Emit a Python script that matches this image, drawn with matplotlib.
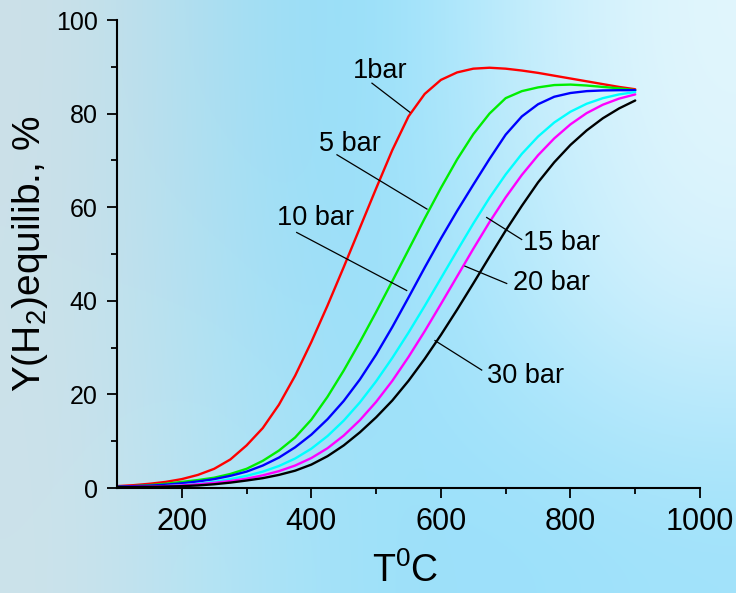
import numpy as np
import matplotlib
matplotlib.use("Agg")
import matplotlib.pyplot as plt
from matplotlib import font_manager

# temperature grid, degC
temp = np.arange(100, 901, 25)

# equilibrium H2 yield, %
y_1bar = [0.4, 0.6, 0.9, 1.3, 1.9, 2.8, 4.1, 6.1, 9.1, 12.8, 17.8, 24.0, 31.2, 39.0, 47.2, 55.6, 64.0,
          72.2, 79.4, 84.2, 87.2, 88.8, 89.6, 89.8, 89.6, 89.2, 88.7, 88.1, 87.5, 86.9, 86.3, 85.7, 85.2]
y_5bar = [0.3, 0.4, 0.6, 0.9, 1.3, 1.7, 2.2, 3.0, 4.1, 5.8, 8.0, 10.8, 14.6, 19.5, 25.1, 31.2, 37.6,
          44.2, 50.9, 57.6, 64.1, 70.2, 75.6, 80.0, 83.3, 84.8, 85.6, 86.1, 86.2, 86.0, 85.7, 85.4, 85.0]
y_10bar = [0.3, 0.4, 0.5, 0.7, 1.0, 1.4, 1.9, 2.6, 3.5, 4.8, 6.5, 8.7, 11.4, 14.7, 18.6, 23.2, 28.5,
           34.4, 40.7, 47.1, 53.3, 59.2, 64.8, 70.3, 75.5, 79.4, 82.0, 83.6, 84.4, 84.8, 84.95, 85.0, 85.0]
y_15bar = [0.0, 0.1, 0.2, 0.4, 0.6, 0.9, 1.3, 1.9, 2.6, 3.5, 4.7, 6.3, 8.4, 11.1, 14.4, 18.3, 22.8,
           27.8, 33.2, 38.9, 44.8, 50.7, 56.5, 62.0, 67.0, 71.4, 75.1, 78.1, 80.4, 82.1, 83.3, 84.1, 84.6]
y_20bar = [0.2, 0.25, 0.3, 0.4, 0.55, 0.8, 1.1, 1.5, 2.0, 2.7, 3.6, 4.8, 6.4, 8.5, 11.2, 14.5, 18.4,
           22.9, 28.0, 33.5, 39.3, 45.2, 51.1, 56.8, 62.1, 66.9, 71.1, 74.7, 77.7, 80.1, 81.9, 83.2, 84.1]
y_30bar = [0.2, 0.22, 0.26, 0.31, 0.4, 0.55, 0.8, 1.15, 1.6, 2.1, 2.8, 3.7, 5.0, 6.8, 9.1, 11.9, 15.1,
           18.7, 22.9, 27.6, 32.7, 38.1, 43.7, 49.4, 55.0, 60.3, 65.3, 69.6, 73.3, 76.4, 79.0, 81.1, 82.8]

series = [y_1bar, y_5bar, y_10bar, y_15bar, y_20bar, y_30bar]
colors = ["#ff0000", "#00ee00", "#0000ff", "#00ffff", "#ff00ff", "#000000"]
labels = ["1bar", "5 bar", "10 bar", "15 bar", "20 bar", "30 bar"]

installed = {f.name for f in font_manager.fontManager.ttflist}
narrow = "Liberation Sans Narrow" if "Liberation Sans Narrow" in installed else "Liberation Sans"

plt.rcParams["font.family"] = ["Liberation Sans", "DejaVu Sans"]
plt.rcParams["mathtext.fontset"] = "custom"
plt.rcParams["mathtext.rm"] = "Liberation Sans"
plt.rcParams["mathtext.it"] = "Liberation Sans:italic"

fig = plt.figure(figsize=(7.36, 5.93), dpi=100)

# background gradient
bg = fig.add_axes([0, 0, 1, 1], zorder=-10)
bg_cols = np.array([
    [[205, 225, 232], [168, 222, 242], [145, 222, 250], [195, 237, 252], [226, 246, 253]],
    [[204, 225, 233], [172, 225, 244], [150, 222, 250], [180, 233, 252], [215, 242, 253]],
    [[205, 226, 234], [178, 228, 245], [158, 225, 250], [155, 224, 250], [160, 226, 250]],
]) / 255.0
bg.imshow(bg_cols, aspect="auto", interpolation="bicubic", extent=[0, 1, 0, 1])
bg.set_axis_off()

ax = fig.add_axes([117 / 736, 105 / 593, 583 / 736, 468 / 593])
ax.patch.set_alpha(0)

for y, c in zip(series, colors):
    ax.plot(temp, y, color=c, lw=1.7, solid_capstyle="round", solid_joinstyle="round")

ax.set_xlim(100, 1000)
ax.set_ylim(0, 100)
ax.set_xticks([200, 400, 600, 800, 1000])
ax.set_xticks([300, 500, 700, 900], minor=True)
ax.set_yticks([0, 20, 40, 60, 80, 100])
ax.set_yticks([10, 30, 50, 70, 90], minor=True)

for side in ["top", "right"]:
    ax.spines[side].set_visible(False)
for side in ["left", "bottom"]:
    ax.spines[side].set_linewidth(1.5)

ax.tick_params(which="major", direction="out", length=7, width=1.3, pad=7)
ax.tick_params(which="minor", direction="out", length=4, width=1.3)
for t in ax.get_xticklabels():
    t.set_fontfamily(narrow)
    t.set_fontsize(22)
for t in ax.get_yticklabels():
    t.set_fontfamily(narrow)
    t.set_fontsize(18)

ax.set_ylabel("Y(H$_2$)equilib., %", fontsize=28)
ax.yaxis.set_label_coords(-0.115, 0.5)
ax.set_xlabel("T$^0$C", fontsize=27)
ax.xaxis.set_label_coords(0.494, -0.138)

# curve labels with leader lines
label_pos = [(507, 89.0), (460, 73.6), (406, 57.7), (787, 52.3), (770, 43.7), (731, 24.0)]
leaders = [((493.6, 86.5), (552, 80.3)),
           ((439.6, 71.2), (578.5, 59.6)),
           ((377.4, 54.6), (547.2, 42.2)),
           ((670.7, 57.8), (724.7, 53.1)),
           ((637.2, 47.4), (701.6, 43.7)),
           ((590.9, 31.5), (663.0, 25.2))]
for lab, (tx, ty), (p0, p1) in zip(labels, label_pos, leaders):
    ax.text(tx, ty, lab, fontsize=19.5, ha="center", va="center")
    ax.plot([p0[0], p1[0]], [p0[1], p1[1]], color="black", lw=0.9)

fig.savefig("out.png", dpi=100)
